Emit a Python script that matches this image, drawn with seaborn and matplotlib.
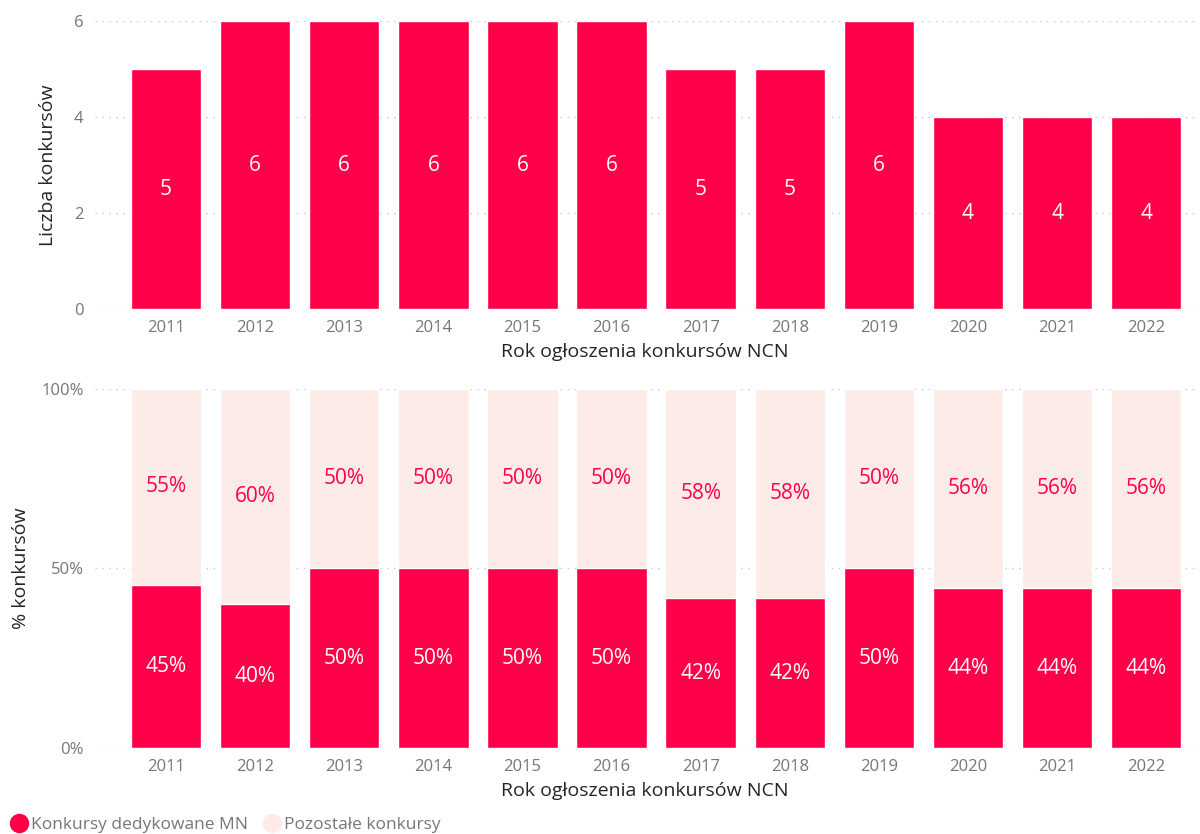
import matplotlib
matplotlib.use("Agg")
import matplotlib.pyplot as plt
from matplotlib.lines import Line2D
import seaborn as sns
import pandas as pd

# data
years = ["2011", "2012", "2013", "2014", "2015", "2016",
         "2017", "2018", "2019", "2020", "2021", "2022"]
dedicated = [5, 6, 6, 6, 6, 6, 5, 5, 6, 4, 4, 4]
total = [11, 15, 12, 12, 12, 12, 12, 12, 12, 9, 9, 9]

RED = "#FF0049"
PINK = "#FDEBE8"
GREY = "#767676"
DARK = "#252423"

sns.set_theme(style="white")
plt.rcParams["font.family"] = ["Open Sans", "DejaVu Sans"]

df = pd.DataFrame({"year": years, "ded": dedicated, "total": total})
df["pct_ded"] = df["ded"] / df["total"] * 100
df["pct_other"] = 100 - df["pct_ded"]

fig = plt.figure(figsize=(12, 8.34), dpi=100)
ax1 = fig.add_axes([0.079, 0.6295, 0.917, 0.3453])
ax2 = fig.add_axes([0.079, 0.1031, 0.917, 0.4305])

# top chart - counts
sns.barplot(data=df, x="year", y="ded", color=RED, saturation=1, width=0.79, ax=ax1)
for i, v in enumerate(df["ded"]):
    ax1.text(i, v / 2, str(v), ha="center", va="center", color="white", fontsize=15)
ax1.set_ylim(0, 6)
ax1.set_yticks([0, 2, 4, 6])
ax1.set_ylabel("Liczba konkursów", fontsize=14, color=DARK, labelpad=12)

# bottom chart - shares
sns.barplot(data=df, x="year", y=[100] * len(df), color=PINK, saturation=1, width=0.79, ax=ax2)
sns.barplot(data=df, x="year", y="pct_ded", color=RED, saturation=1, width=0.79, ax=ax2)
for i, (a, b) in enumerate(zip(df["pct_ded"], df["pct_other"])):
    ax2.text(i, a / 2, f"{round(a)}%", ha="center", va="center", color="white", fontsize=15)
    ax2.text(i, a + b / 2, f"{round(b)}%", ha="center", va="center", color=RED, fontsize=15)
ax2.set_ylim(0, 100)
ax2.set_yticks([0, 50, 100])
ax2.set_yticklabels(["0%", "50%", "100%"])
ax2.set_ylabel("% konkursów", fontsize=14, color=DARK, labelpad=8)

for ax in (ax1, ax2):
    ax.set_xlim(-0.8, 11.55)
    ax.set_xlabel("Rok ogłoszenia konkursów NCN", fontsize=14, color=DARK, labelpad=5)
    ax.tick_params(axis="both", length=0, labelsize=12, labelcolor=GREY, pad=8)
    ax.yaxis.grid(True, linestyle=(0, (1, 4)), color="#C8C8C8", linewidth=1)
    ax.set_axisbelow(True)
    sns.despine(ax=ax, left=True, bottom=True)

handles = [
    Line2D([], [], marker="o", linestyle="", markersize=13, color=RED),
    Line2D([], [], marker="o", linestyle="", markersize=13, color=PINK),
]
fig.legend(handles, ["Konkursy dedykowane MN", "Pozostałe konkursy"],
           loc="lower left", bbox_to_anchor=(-0.012, -0.018), ncol=2, frameon=False,
           fontsize=12.5, labelcolor=GREY, handletextpad=-0.3, columnspacing=0.4)

fig.savefig("out.png", dpi=100)
